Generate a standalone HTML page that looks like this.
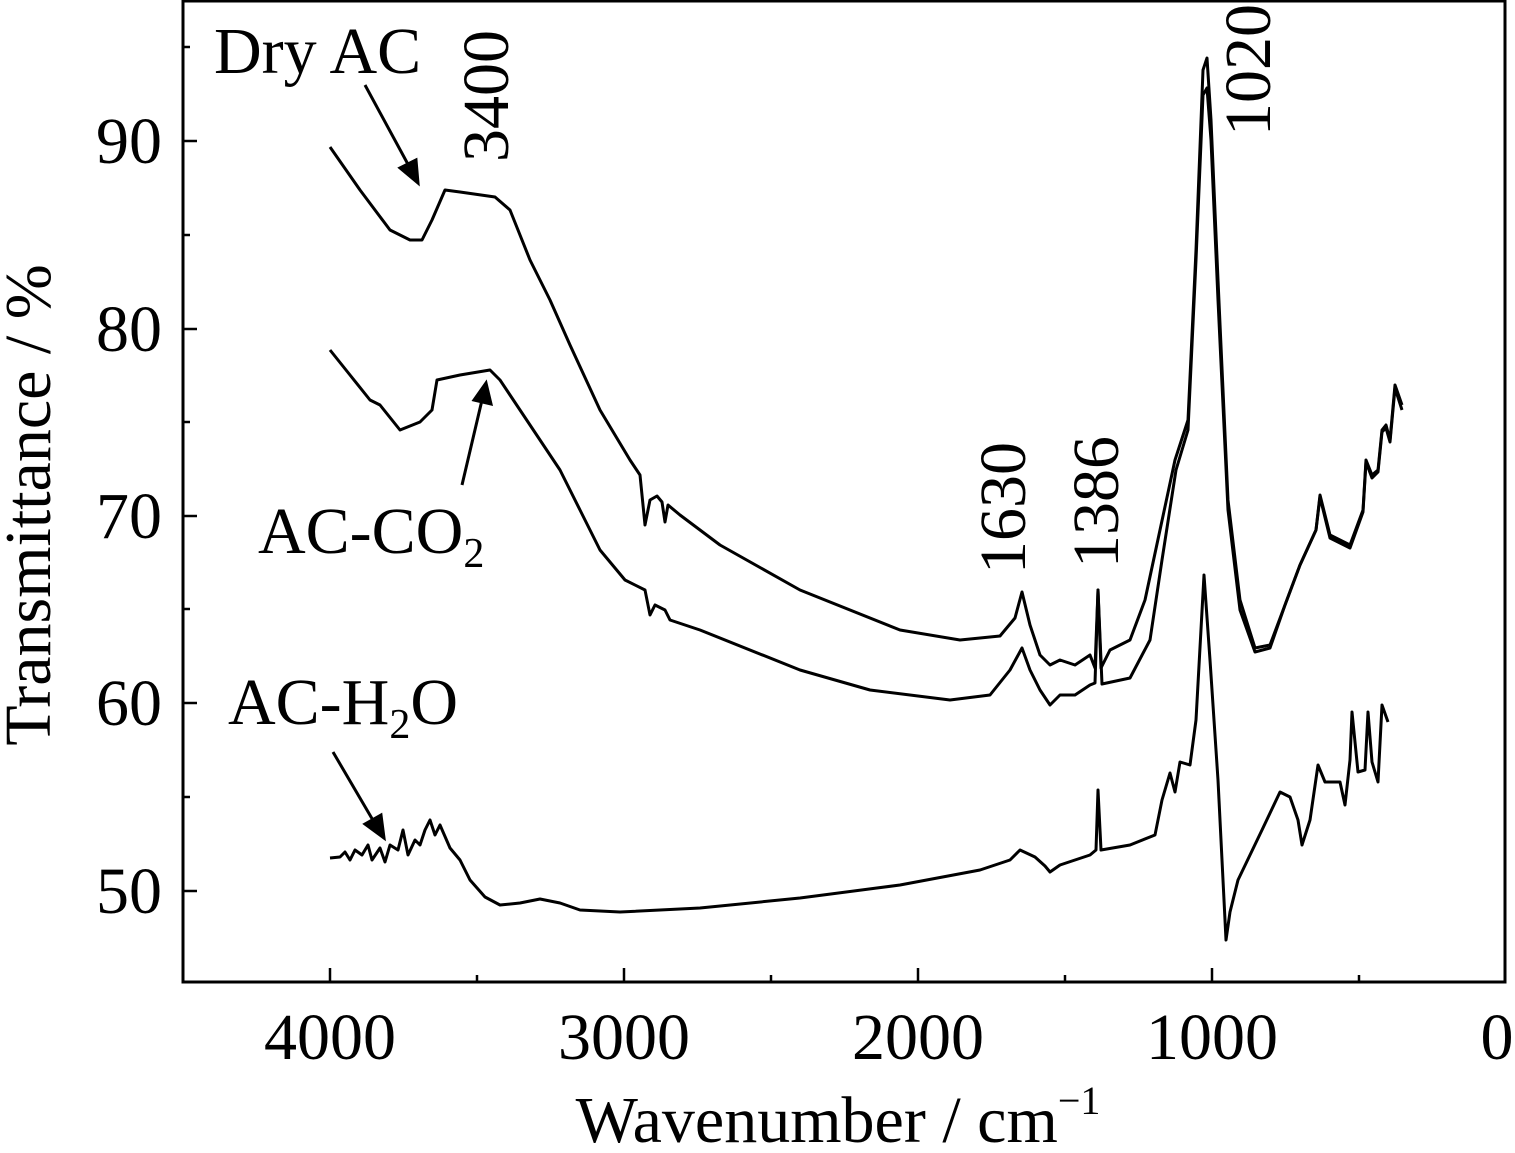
<!DOCTYPE html>
<html><head><meta charset="utf-8"><style>
html,body{margin:0;padding:0;background:#fff}
svg{display:block;font-family:"Liberation Serif",serif}
</style></head><body>
<svg width="1515" height="1153" viewBox="0 0 1515 1153" xmlns="http://www.w3.org/2000/svg">
<rect x="183" y="1" width="1322" height="981" fill="none" stroke="#000" stroke-width="3"/>
<g stroke="#000" stroke-width="2.5">
<line x1="330" y1="982" x2="330" y2="968"/><line x1="624" y1="982" x2="624" y2="968"/><line x1="918" y1="982" x2="918" y2="968"/><line x1="1212" y1="982" x2="1212" y2="968"/>
<line x1="477" y1="982" x2="477" y2="975"/><line x1="771" y1="982" x2="771" y2="975"/><line x1="1065" y1="982" x2="1065" y2="975"/><line x1="1359" y1="982" x2="1359" y2="975"/>
<line x1="183" y1="141" x2="197" y2="141"/><line x1="183" y1="329" x2="197" y2="329"/><line x1="183" y1="516" x2="197" y2="516"/><line x1="183" y1="703" x2="197" y2="703"/><line x1="183" y1="891" x2="197" y2="891"/>
<line x1="183" y1="47" x2="190" y2="47"/><line x1="183" y1="235" x2="190" y2="235"/><line x1="183" y1="422" x2="190" y2="422"/><line x1="183" y1="609" x2="190" y2="609"/><line x1="183" y1="797" x2="190" y2="797"/>
</g>
<g font-size="66" fill="#000">
<g text-anchor="end"><text x="162" y="163">90</text><text x="162" y="351">80</text><text x="162" y="538">70</text><text x="162" y="725">60</text><text x="162" y="913">50</text></g>
<g text-anchor="middle"><text x="330" y="1059">4000</text><text x="624" y="1059">3000</text><text x="918" y="1059">2000</text><text x="1212" y="1059">1000</text><text x="1497" y="1059">0</text>
<text x="838" y="1142">Wavenumber / cm<tspan dy="-28" font-size="40">−1</tspan></text>
<text transform="translate(50,505) rotate(-90)">Transmittance / %</text></g>
<text x="214" y="73">Dry AC</text>
<text x="258" y="553">AC-CO<tspan font-size="42" dy="14">2</tspan></text>
<text x="228" y="724">AC-H<tspan font-size="42" dy="14">2</tspan><tspan dy="-14">O</tspan></text>
<text transform="translate(508,162) rotate(-90)">3400</text>
<text transform="translate(1270,136) rotate(-90)">1020</text>
<text transform="translate(1025,574) rotate(-90)">1630</text>
<text transform="translate(1118,568) rotate(-90)">1386</text>
</g>
<g stroke="#000" stroke-width="3" fill="none" stroke-linejoin="round">
<polyline points="330,147 360,190 390,230 410,240 422,240 432,220 445,190 460,192 495,197 510,210 530,260 550,300 570,345 600,410 630,460 640,475 645,525 650,500 657,496 662,502 665,522 668,505 680,515 720,545 800,590 900,630 960,640 1000,636 1015,618 1022,592 1030,625 1040,655 1050,665 1060,660 1075,665 1090,655 1095,668 1098,590 1101,668 1110,650 1130,640 1145,600 1160,530 1175,460 1188,420 1196,250 1203,70 1207,58 1211,120 1218,280 1228,500 1240,600 1255,648 1270,645 1285,605 1300,565 1316,530 1320,495 1330,535 1350,545 1363,510 1366,460 1372,475 1378,470 1382,430 1386,425 1390,440 1395,385 1402,405"/>
<polyline points="330,350 350,375 370,400 380,405 400,430 420,422 432,410 437,380 460,375 490,370 500,380 520,410 540,440 560,470 580,510 600,550 625,580 645,590 650,615 655,605 665,610 670,620 700,630 800,670 870,690 950,700 990,695 1010,670 1022,648 1030,670 1040,690 1050,705 1060,695 1075,695 1090,685 1095,683 1098,590 1102,684 1130,678 1150,640 1162,560 1176,470 1188,430 1196,260 1203,95 1207,88 1211,140 1218,300 1228,510 1240,610 1255,652 1270,648 1285,605 1300,565 1316,530 1320,497 1330,538 1350,548 1363,512 1366,462 1372,478 1378,472 1382,432 1386,428 1390,442 1395,388 1402,410"/>
<polyline points="330,858 340,857 345,852 350,860 355,850 362,855 368,845 372,860 380,848 385,862 390,845 398,850 403,830 408,855 415,840 420,845 425,830 430,820 435,835 440,825 450,848 460,860 470,880 485,897 500,905 520,903 540,899 560,903 580,910 620,912 700,908 800,898 900,885 980,870 1010,860 1020,850 1035,857 1045,866 1050,872 1060,865 1090,855 1096,850 1098,790 1101,850 1130,845 1155,835 1162,800 1170,773 1175,792 1180,762 1190,765 1196,720 1204,575 1210,660 1218,780 1226,940 1230,912 1238,880 1250,855 1262,830 1280,792 1290,797 1298,820 1302,845 1310,820 1318,765 1325,782 1340,782 1345,805 1350,760 1352,712 1358,772 1365,770 1368,712 1372,762 1378,782 1382,705 1388,722"/>
</g>
<g stroke="#000" stroke-width="3" fill="#000">
<line x1="365" y1="85" x2="410" y2="168"/><polygon points="418,183 400,168 416,160"/>
<line x1="462" y1="485" x2="482" y2="400"/><polygon points="486,383 474,400 491,404"/>
<line x1="333" y1="752" x2="374" y2="822"/><polygon points="384,838 365,824 381,815"/>
</g>
</svg>
</body></html>
